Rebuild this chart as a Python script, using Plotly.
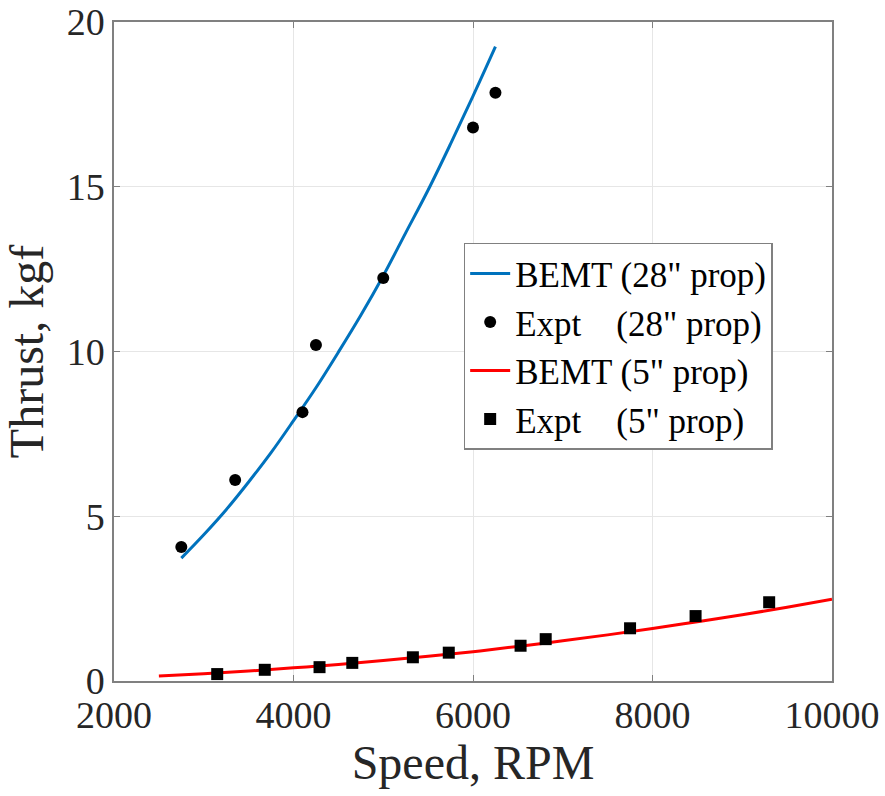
import plotly.graph_objects as go

# BEMT 28" prop curve
bemt28_rpm = [2750, 3000, 3250, 3500, 3750, 4000, 4250, 4500, 4750, 5000, 5250, 5500, 5750, 6000, 6250]
bemt28_thrust = [3.73, 4.44, 5.2, 6.04, 6.93, 7.9, 8.9, 9.98, 11.1, 12.3, 13.6, 14.9, 16.3, 17.75, 19.25]

# Experimental 28" prop
expt28_rpm = [2750, 3350, 4100, 4250, 5000, 6000, 6250]
expt28_thrust = [4.07, 6.1, 8.16, 10.2, 12.23, 16.8, 17.85]

# BEMT 5" prop curve
bemt5_rpm = [2500, 3000, 3500, 4000, 4500, 5000, 5500, 6000, 6500, 7000, 7500, 8000, 8500, 9000, 9500, 10000]
bemt5_thrust = [0.15, 0.22, 0.30, 0.40, 0.50, 0.62, 0.75, 0.89, 1.05, 1.22, 1.40, 1.59, 1.80, 2.01, 2.24, 2.48]

# Experimental 5" prop
expt5_rpm = [3150, 3680, 4290, 4655, 5330, 5730, 6530, 6810, 7750, 8480, 9300]
expt5_thrust = [0.21, 0.34, 0.42, 0.55, 0.72, 0.86, 1.07, 1.27, 1.6, 1.97, 2.39]

x_ticks = [2000, 4000, 6000, 8000, 10000]
y_ticks = [0, 5, 10, 15, 20]

FONT = "Liberation Serif"
NB = "\u00a0"

fig = go.Figure()
fig.add_trace(go.Scatter(x=bemt28_rpm, y=bemt28_thrust, mode="lines",
                         line=dict(color="#0072BD", width=3), line_shape="spline",
                         name='BEMT (28" prop)'))
fig.add_trace(go.Scatter(x=expt28_rpm, y=expt28_thrust, mode="markers",
                         marker=dict(color="black", size=12, symbol="circle"),
                         name="Expt" + NB * 4 + '(28" prop)'))
fig.add_trace(go.Scatter(x=bemt5_rpm, y=bemt5_thrust, mode="lines",
                         line=dict(color="#FF0000", width=3), line_shape="spline",
                         name='BEMT (5" prop)'))
fig.add_trace(go.Scatter(x=expt5_rpm, y=expt5_thrust, mode="markers",
                         marker=dict(color="black", size=12, symbol="square"),
                         name="Expt" + NB * 4 + '(5" prop)'))

axis_common = dict(showline=True, linecolor="#808080", linewidth=1.5, mirror="ticks",
                   ticks="inside", ticklen=6, tickcolor="#808080",
                   showgrid=True, gridcolor="#E6E6E6", gridwidth=1,
                   zeroline=False, automargin=False,
                   tickfont=dict(family=FONT, size=38, color="#262626"))

fig.update_xaxes(range=[2000, 10000], tickvals=x_ticks, ticktext=[str(v) for v in x_ticks],
                 title=dict(text="Speed, RPM", font=dict(family=FONT, size=48, color="#262626"), standoff=4),
                 **axis_common)
fig.update_yaxes(range=[0, 20], tickvals=y_ticks, ticktext=[str(v) for v in y_ticks],
                 title=dict(text="Thrust, kgf", font=dict(family=FONT, size=48, color="#262626"), standoff=8),
                 **axis_common)

fig.update_layout(
    width=885, height=796,
    margin=dict(l=114, r=53, t=22, b=115),
    plot_bgcolor="white", paper_bgcolor="white",
    font=dict(family=FONT, color="black"),
    legend=dict(x=0.487, y=0.665, xanchor="left", yanchor="top",
                bgcolor="white", bordercolor="#808080", borderwidth=1.5,
                font=dict(family=FONT, size=35, color="black"),
                itemwidth=40, tracegroupgap=0),
    showlegend=True,
)

fig.write_html("out.html")
